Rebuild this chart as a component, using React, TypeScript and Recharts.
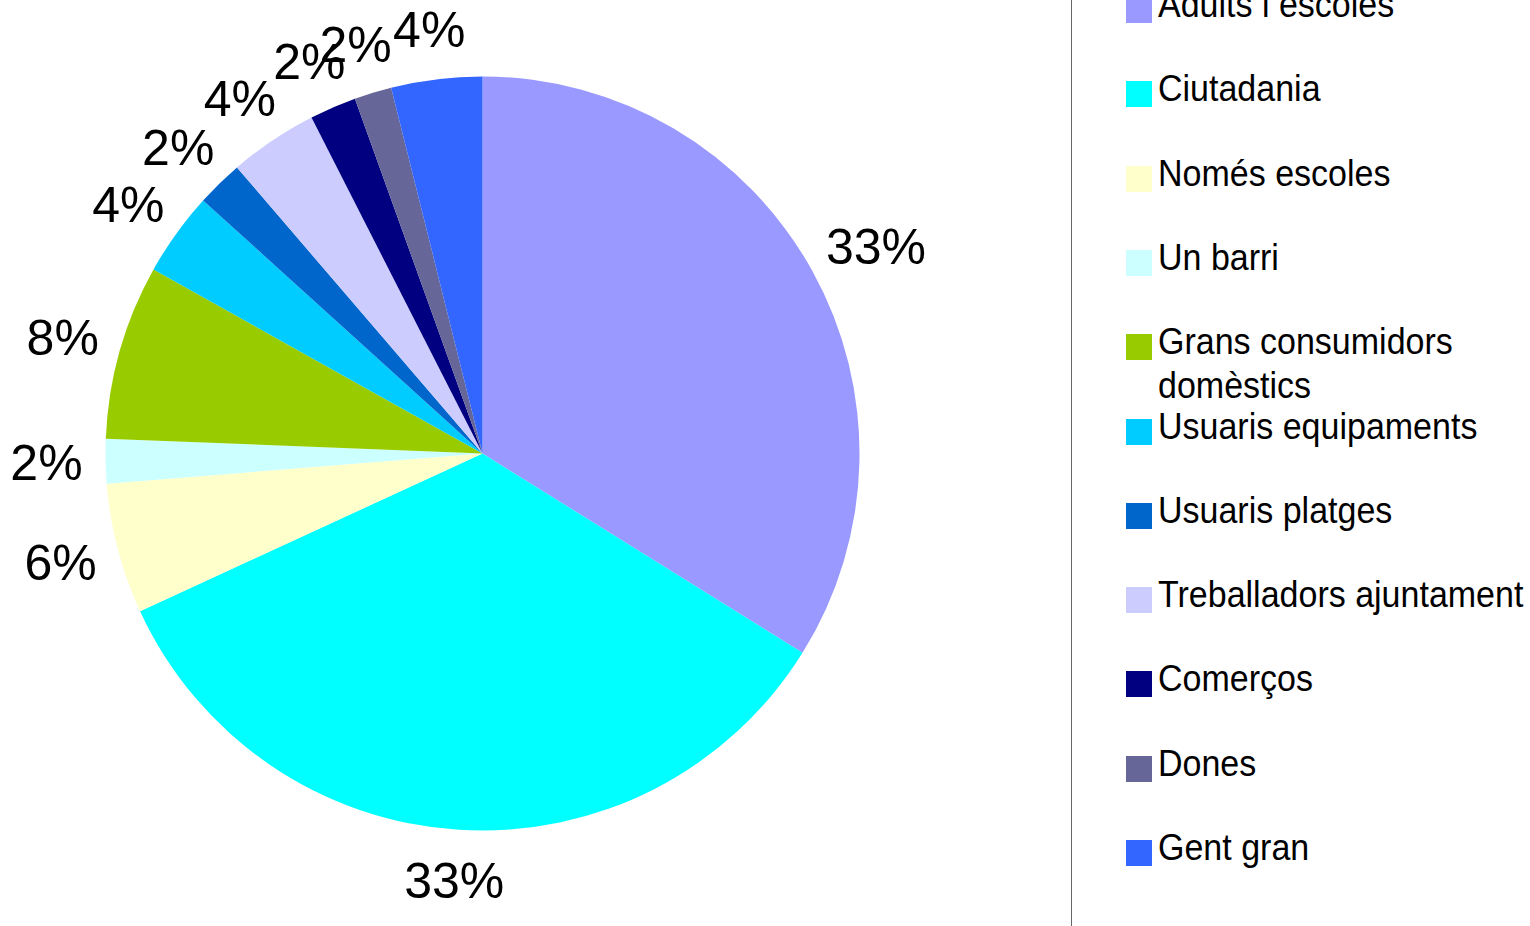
import { PieChart, Pie, Cell, Legend } from 'recharts';

const categories = [
  'Adults i escoles',
  'Ciutadania',
  'Només escoles',
  'Un barri',
  'Grans consumidors domèstics',
  'Usuaris equipaments',
  'Usuaris platges',
  'Treballadors ajuntament',
  'Comerços',
  'Dones',
  'Gent gran',
];

// share of each group
const shares = [33.9, 34.3, 5.6, 1.9, 7.5, 3.6, 2.0, 3.8, 2.0, 1.6, 3.9];

// label text as printed on the chart
const shareLabels = ['33%', '33%', '6%', '2%', '8%', '4%', '2%', '4%', '2%', '2%', '4%'];

const colors = [
  '#9999FF', '#00FFFF', '#FFFFCC', '#CCFFFF', '#99CC00', '#00CCFF',
  '#0066CC', '#CCCCFF', '#000080', '#666699', '#3366FF',
];

const chartData = categories.map((name, i) => ({ name, value: shares[i] }));

const FONT = '"Liberation Sans", Arial, sans-serif';
const RAD = Math.PI / 180;
const LABEL_SIZE = 50;

function renderLabel(props: any) {
  const { cx, cy, midAngle, outerRadius, index } = props;
  const text = shareLabels[index];
  const ux = Math.cos(-midAngle * RAD);
  const uy = Math.sin(-midAngle * RAD);
  const w = LABEL_SIZE * (0.556 * (text.length - 1) + 0.889);
  const r = outerRadius + 23;
  const x = cx + ux * (r + w / 2);
  const y = cy + uy * (r + 27.5);
  return (
    <text
      x={x}
      y={y + LABEL_SIZE * 0.358}
      textAnchor="middle"
      fill="#000"
      fontSize={LABEL_SIZE}
      fontFamily={FONT}
    >
      {text}
    </text>
  );
}

function LegendBox() {
  return (
    <div style={{ position: 'relative', width: 459, height: 926, fontFamily: FONT }}>
      {categories.map((name, i) => (
        <div
          key={name}
          style={{ position: 'absolute', left: 54, top: -3 + i * 84.3, display: 'flex', alignItems: 'flex-start' }}
        >
          <div style={{ width: 26, height: 26, background: colors[i], flexShrink: 0 }} />
          <div
            style={{
              marginLeft: 6,
              marginTop: -15,
              width: 372,
              fontSize: 34,
              lineHeight: '40px',
              color: '#000',
              transform: 'scaleY(1.1)',
              transformOrigin: 'top left',
            }}
          >
            {name}
          </div>
        </div>
      ))}
    </div>
  );
}

export default function App() {
  return (
    <div style={{ position: 'absolute', left: 0, top: 0, width: 1530, height: 926, overflow: 'hidden', background: '#fff' }}>
      <PieChart width={1530} height={926} margin={{ top: 0, right: 0, bottom: 0, left: 0 }}>
        <Pie
          data={chartData}
          dataKey="value"
          nameKey="name"
          cx={482.5}
          cy={453.5}
          outerRadius={377}
          startAngle={90}
          endAngle={-270}
          stroke="none"
          label={renderLabel}
          labelLine={false}
          isAnimationActive={false}
        >
          {chartData.map((entry, i) => (
            <Cell key={entry.name} fill={colors[i]} />
          ))}
        </Pie>
        <Legend
          content={() => <LegendBox />}
          wrapperStyle={{ position: 'absolute', left: 1071, top: 0, width: 459, height: 926, borderLeft: '1.5px solid #666' }}
        />
      </PieChart>
    </div>
  );
}
